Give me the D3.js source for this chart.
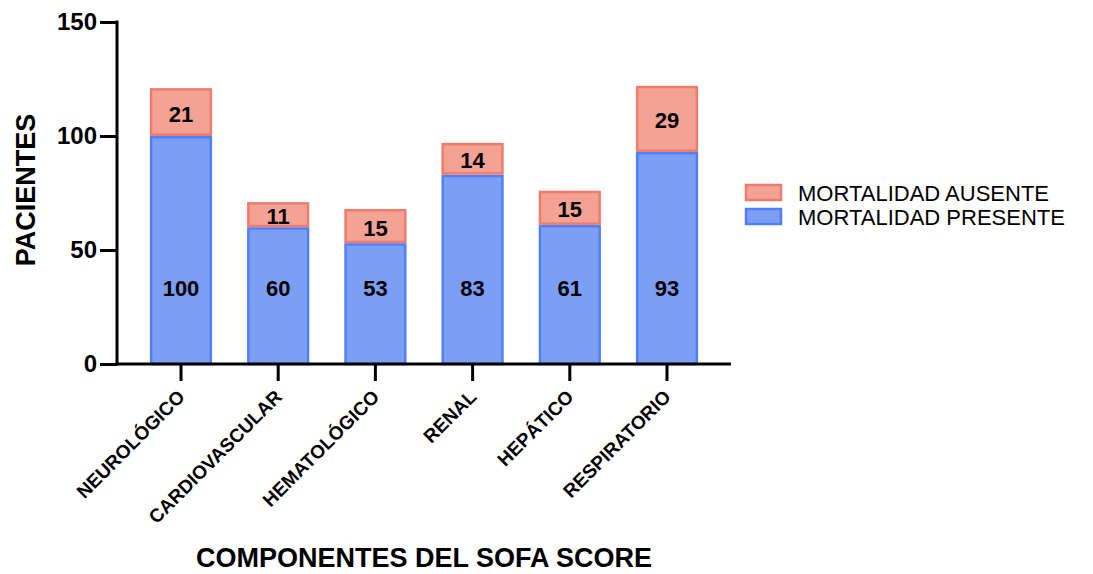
<!DOCTYPE html>
<html lang="es">
<head>
<meta charset="UTF-8">
<title>Componentes del SOFA score</title>
<script src="https://cdnjs.cloudflare.com/ajax/libs/d3/7.8.5/d3.min.js"></script>
<style>
    body { margin: 0; background: #ffffff; font-family: "Liberation Sans", Arial, sans-serif; }
    svg text { fill: #000; }
</style>
</head>
<body>
<div id="chart"></div>
<script>
    const categories = ["NEUROLÓGICO", "CARDIOVASCULAR", "HEMATOLÓGICO", "RENAL", "HEPÁTICO", "RESPIRATORIO"];
    const presente = [100, 60, 53, 83, 61, 93];
    const ausente = [21, 11, 15, 14, 15, 29];
    const yTicks = [0, 50, 100, 150];
    const seriesNames = ["MORTALIDAD AUSENTE", "MORTALIDAD PRESENTE"];

    const blueFill = "#7c9ef5", blueStroke = "#4f80f8";
    const redFill = "#f4a294", redStroke = "#f07b6b";

    const W = 1093, H = 574;
    const svg = d3.select("#chart").append("svg")
        .attr("width", W).attr("height", H);

    const axisX0 = 117, axisX1 = 731;
    const y = d3.scaleLinear().domain([0, 150]).range([364, 22]);
    const x = d3.scaleBand().domain(categories)
        .range([132.4, 715.6])
        .paddingInner(0.36).paddingOuter(0.18);

    const rows = categories.map((c, i) => ({ c, p: presente[i], a: ausente[i] }));

    // bars: presente bottom, ausente on top
    const sw = 2.5;
    svg.selectAll(".bar-p").data(rows).enter().append("rect")
        .attr("x", d => x(d.c) + sw / 2)
        .attr("width", x.bandwidth() - sw)
        .attr("y", d => y(d.p) + sw / 2)
        .attr("height", d => y(0) - y(d.p) - sw / 2)
        .attr("fill", blueFill).attr("stroke", blueStroke).attr("stroke-width", sw);

    svg.selectAll(".bar-a").data(rows).enter().append("rect")
        .attr("x", d => x(d.c) + sw / 2)
        .attr("width", x.bandwidth() - sw)
        .attr("y", d => y(d.p + d.a) + sw / 2)
        .attr("height", d => y(d.p) - y(d.p + d.a) - sw)
        .attr("fill", redFill).attr("stroke", redStroke).attr("stroke-width", sw);

    // value labels
    svg.selectAll(".lab-p").data(rows).enter().append("text")
        .attr("x", d => x(d.c) + x.bandwidth() / 2)
        .attr("y", y(33))
        .attr("text-anchor", "middle").attr("dominant-baseline", "central")
        .style("font-size", "22px").style("font-weight", "bold")
        .text(d => d.p);

    svg.selectAll(".lab-a").data(rows).enter().append("text")
        .attr("x", d => x(d.c) + x.bandwidth() / 2)
        .attr("y", d => y(d.p + d.a / 2) + 2)
        .attr("text-anchor", "middle").attr("dominant-baseline", "central")
        .style("font-size", "22px").style("font-weight", "bold")
        .text(d => d.a);

    // y axis
    const yAxis = svg.append("g")
        .attr("transform", `translate(${axisX0},0)`)
        .call(d3.axisLeft(y).tickValues(yTicks).tickSize(17).tickPadding(3));
    yAxis.select(".domain").attr("stroke", "#000").attr("stroke-width", 3)
        .attr("d", `M0,${y(150) - 1.5}V${y(0) + 1.5}`);
    yAxis.selectAll(".tick line").attr("stroke", "#000").attr("stroke-width", 3);
    yAxis.selectAll(".tick text")
        .style("font-family", "'Liberation Sans', Arial, sans-serif")
        .style("font-size", "24px").style("font-weight", "bold").attr("fill", "#000");

    // x axis
    const xAxis = svg.append("g")
        .attr("transform", `translate(0,${y(0)})`)
        .call(d3.axisBottom(x).tickSize(17).tickFormat(""));
    xAxis.select(".domain").attr("stroke", "#000").attr("stroke-width", 3)
        .attr("d", `M${axisX0 - 1.5},0H${axisX1}`);
    xAxis.selectAll(".tick line").attr("stroke", "#000").attr("stroke-width", 3);

    svg.selectAll(".xlab").data(categories).enter().append("text")
        .attr("transform", d => `translate(${x(d) + x.bandwidth() / 2 + 5},${y(0) + 34}) rotate(-45)`)
        .attr("text-anchor", "end")
        .style("font-size", "19px").style("font-weight", "bold")
        .text(d => d);

    // axis titles
    svg.append("text")
        .attr("transform", `translate(35,190) rotate(-90)`)
        .attr("text-anchor", "middle")
        .style("font-size", "27px").style("font-weight", "bold")
        .text("PACIENTES");

    svg.append("text")
        .attr("x", 424).attr("y", 567)
        .attr("text-anchor", "middle")
        .style("font-size", "27px").style("font-weight", "bold")
        .text("COMPONENTES DEL SOFA SCORE");

    // legend
    const legend = svg.append("g").attr("transform", "translate(746,185)");
    const legColors = [[redFill, redStroke], [blueFill, blueStroke]];
    seriesNames.forEach((name, i) => {
        legend.append("rect")
            .attr("x", 0).attr("y", i * 24)
            .attr("width", 35).attr("height", 15)
            .attr("fill", legColors[i][0]).attr("stroke", legColors[i][1]).attr("stroke-width", 2.5);
        legend.append("text")
            .attr("x", 52).attr("y", i * 24 + 16)
            .style("font-size", "22px")
            .text(name);
    });
</script>
</body>
</html>
